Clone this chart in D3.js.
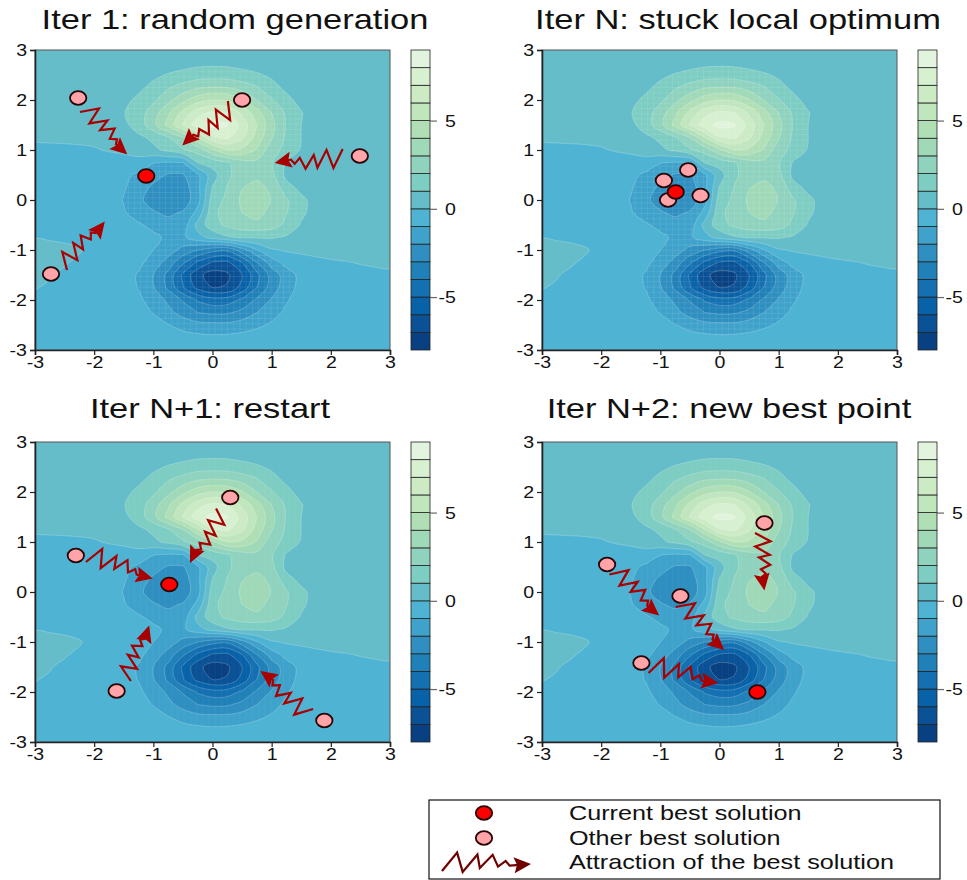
<!DOCTYPE html>
<html>
<head>
<meta charset="utf-8">
<script src="https://cdn.jsdelivr.net/npm/d3@7"></script>
<style>
  html, body { margin: 0; background: #fff; }
  svg { display: block; }
  text { font-family: "Liberation Sans", Arial, sans-serif; fill: #111; }
</style>
</head>
<body>
<div id="chart"></div>
<script>
// contour levels, one colour per band (low to high)
var levels = [-8,-7,-6,-5,-4,-3,-2,-1,0,1,2,3,4,5,6,7,8,9]
var bandColors = ["#084081","#0a5195","#0862a8","#1470b0","#2080b8","#2f8fc0","#3fa2cb","#4fb3d3",
  "#66bdca","#7dcdc3","#8fd3bf","#a0d9b8","#b0dfb6","#c0e6be","#ccebc5","#d7f0d0","#e2f4dd"]

var axisTicks = [-3,-2,-1,0,1,2,3]
var barTicks = [-5,0,5]

// surface, rows y=3 down to y=-3, columns x=-3 to x=3, step 0.25
var gridX = d3.range(-3, 3.01, 0.25)
var gridY = d3.range(3, -3.01, -0.25)
var field = [
  [.4,.4,.4,.4,.4,.4,.4,.4,.4,.4,.4,.4,.4,.4,.4,.4,.4,.4,.4,.4,.4,.4,.4,.4,.4],
  [.4,.4,.4,.4,.4,.4,.4,.4,.42,.48,.6,.72,.75,.74,.66,.52,.42,.4,.4,.4,.4,.4,.4,.4,.4],
  [.4,.4,.4,.4,.4,.4,.42,.5,.8,1.08,1.3,1.5,1.55,1.5,1.3,1.12,.85,.55,.42,.4,.4,.4,.4,.4,.4],
  [.4,.4,.4,.4,.4,.4,.45,.8,1.25,1.9,2.4,2.9,3.05,3,2.6,2.1,1.3,.8,.5,.4,.4,.4,.4,.4,.4],
  [.38,.38,.38,.38,.38,.42,.75,1.2,1.8,2.7,3.7,4.6,5.05,4.9,4.1,3,2.1,1.25,.7,.42,.38,.38,.38,.38,.38],
  [.35,.35,.35,.35,.38,.5,.95,1.5,2.5,3.8,5.3,6.6,7.2,7,5.8,4.4,3,1.8,1.05,.5,.38,.35,.35,.35,.35],
  [.3,.3,.3,.32,.36,.5,.75,1.45,2.7,4.3,6.1,7.6,8.3,8.1,6.6,5,3.3,1.9,1,.5,.36,.32,.3,.3,.3],
  [.1,.12,.12,.14,.15,.2,.4,.8,1.2,1.9,3,5,6.9,7.2,6.2,4.6,3.1,1.8,1,.5,.36,.32,.3,.3,.3],
  [-.2,-.15,-.12,-.1,-.05,.05,.15,.4,.8,1.2,1.85,2.4,3.8,5,4.8,3.9,2.4,1.7,.9,.5,.36,.32,.3,.3,.3],
  [-.4,-.35,-.35,-.3,-.3,-.3,-.3,-.35,-.95,-1.05,-1,1.05,1.4,1.9,2.6,2.75,2.1,.9,.55,.4,.35,.32,.3,.3,.3],
  [-.4,-.4,-.4,-.4,-.4,-.4,-.75,-1.2,-1.6,-2.1,-2.1,-1.2,.6,1.8,2.5,2.75,2.3,.7,.5,.4,.35,.32,.3,.3,.3],
  [-.4,-.4,-.4,-.4,-.45,-.5,-.9,-1.5,-2.2,-2.7,-2.5,-1.3,1.05,2.05,2.95,3.3,2.8,1.4,.7,.42,.35,.32,.3,.3,.3],
  [-.4,-.4,-.4,-.4,-.45,-.55,-1.05,-1.8,-2.4,-2.75,-2.6,-1.4,1.5,2.2,3.2,3.55,2.95,2.1,1.25,.6,.4,.35,.32,.3,.3],
  [-.35,-.35,-.35,-.38,-.42,-.55,-.9,-1.5,-1.9,-2.2,-1.9,-.7,1.7,2.5,3,3.4,2.6,2.05,1.2,.6,.4,.35,.32,.3,.3],
  [-.25,-.25,-.28,-.3,-.35,-.4,-.6,-.85,-1.3,-1.6,-1.6,.35,1.6,2.2,2.6,2.7,2.45,1.75,.9,.55,.4,.35,.32,.3,.3],
  [-.02,-.05,-.08,-.2,-.3,-.35,-.4,-.5,-.75,-1.2,-1.2,-.35,.3,.85,1.1,1.1,1.1,.85,.55,.4,.35,.32,.3,.3,.3],
  [.2,.15,.1,.05,-.2,-.28,-.35,-.55,-1,-1.5,-2.3,-3,-3.6,-3.8,-2.4,-1.1,-.1,.1,.1,.12,.15,.2,.2,.22,.25],
  [.2,.15,.05,-.1,-.25,-.3,-.4,-.75,-1.4,-2.4,-3.8,-5.2,-6.1,-6.2,-5,-3,-1.5,-.6,-.2,-.1,-.05,-.02,.02,.06,.1],
  [.1,.03,-.1,-.2,-.28,-.3,-.55,-1.1,-2,-3.3,-5.2,-6.7,-7.5,-7.2,-6,-4.3,-2.6,-1.5,-.7,-.3,-.2,-.15,-.1,-.1,-.1],
  [.02,-.05,-.15,-.2,-.28,-.3,-.5,-1.05,-1.9,-3.2,-4.9,-6.3,-7,-6.9,-5.6,-4,-2.5,-1.45,-.65,-.3,-.25,-.2,-.2,-.2,-.2],
  [-.1,-.15,-.2,-.22,-.28,-.3,-.4,-.8,-1.4,-2.2,-3.1,-4.1,-4.6,-4.5,-3.8,-2.8,-1.9,-1.1,-.55,-.3,-.25,-.25,-.25,-.25,-.25],
  [-.2,-.2,-.25,-.25,-.28,-.3,-.35,-.6,-1.05,-1.7,-2.4,-3,-3.2,-3.15,-2.7,-2,-1.35,-.8,-.45,-.3,-.25,-.25,-.25,-.25,-.25],
  [-.25,-.25,-.25,-.25,-.25,-.25,-.3,-.4,-.6,-.95,-1.35,-1.65,-1.7,-1.7,-1.5,-1.2,-.85,-.55,-.35,-.3,-.25,-.25,-.25,-.25,-.25],
  [-.3,-.3,-.3,-.3,-.3,-.3,-.3,-.3,-.35,-.45,-.6,-.7,-.8,-.75,-.65,-.5,-.4,-.35,-.3,-.3,-.3,-.3,-.3,-.3,-.3],
  [-.3,-.3,-.3,-.3,-.3,-.3,-.3,-.3,-.3,-.3,-.3,-.3,-.3,-.3,-.3,-.3,-.3,-.3,-.3,-.3,-.3,-.3,-.3,-.3,-.3]
]

var titles = ["Iter 1: random generation","Iter N: stuck local optimum","Iter N+1: restart","Iter N+2: new best point"]
var titleCenters = [235,738,210,729]

// [x, y] of the best point in each panel
var bestPoints = [[-1.12,.48],[-.74,.16],[-.73,.15],[.64,-2]]
var otherPoints = [
  [[-2.27,2.04],[.5,2],[2.49,.88],[-2.73,-1.48]],
  [[-.94,.39],[-.53,.6],[-.32,.09],[-.87,0]],
  [[-2.31,.73],[.3,1.89],[-1.62,-1.98],[1.89,-2.57]],
  [[.76,1.38],[-1.9,.55],[-.66,-.08],[-1.32,-1.42]]
]
// [x0, y0, x1, y1] start and tip of each attraction arrow
var arrows = [
  [[-2.24,1.76,-1.44,.91],[.26,1.98,-.51,1.09],[2.2,1.02,1.05,.74],[-2.46,-1.4,-1.82,-.43]],
  [],
  [[-2.14,.6,-1.01,.27],[.06,1.67,-.38,.58],[-1.38,-1.78,-1.07,-.67],[1.7,-2.34,.81,-1.58]],
  [[-1.86,.35,-1.02,-.47],[-.74,-.3,.08,-1.16],[-1.2,-1.62,-.02,-1.82],[.6,1.18,.76,.03]]
]
// zigzag shape: fraction along the arrow, fraction of its length to the side
var zigzag = [[0,0],[.185,-.24],[.23,.035],[.41,-.19],[.425,0],[.58,-.17],[.63,0],[.72,-.07],[.76,0],[.88,0]]

var legendLabels = ["Current best solution","Other best solution","Attraction of the best solution"]

var panelW = 355, panelH = 300
var panelLeft = [35,542,35,542]
var panelTop = [50,50,442,442]
var titleBase = [29,29,418,418]

document.addEventListener("DOMContentLoaded", function() {
  var svg = d3.select("#chart").append("svg").attr("width", 967).attr("height", 880)
  var defs = svg.append("defs")
  titles.forEach(function(t, i) { drawPanel(svg, defs, i) })
  drawLegend(svg)
})

// the source figure's type is wider than the font, so stretch it
function stretch(sel, factor) {
  sel.each(function() {
    d3.select(this).attr("textLength", this.getComputedTextLength()*factor)
      .attr("lengthAdjust","spacingAndGlyphs")
  })
}

function drawPanel(svg, defs, i) {
  var left = panelLeft[i], top = panelTop[i]
  var x = d3.scaleLinear().domain([-3,3]).range([left, left+panelW])
  var y = d3.scaleLinear().domain([-3,3]).range([top+panelH, top])

  var flat = d3.merge(field)
  var contours = d3.contours().size([gridX.length, gridY.length]).smooth(true)
  var ringLine = d3.line().curve(d3.curveCatmullRomClosed.alpha(.5))

  // contour rings from grid units to pixels, rounded off with a spline
  function smoothPath(multi) {
    return multi.coordinates.map(function(polygon) {
      return polygon.map(function(ring) {
        return ringLine(ring.slice(0,-1).map(function(p) {
          return [x(-3+(p[0]-.5)*.25), y(3-(p[1]-.5)*.25)]
        }))
      }).join("")
    }).join("")
  }

  svg.append("clipPath").attr("id","plot"+i).append("rect")
    .attr("x",left).attr("y",top).attr("width",panelW).attr("height",panelH)

  var g = svg.append("g").attr("clip-path","url(#plot"+i+")")
  g.append("rect").attr("x",left).attr("y",top).attr("width",panelW).attr("height",panelH)
    .attr("fill",bandColors[0])

  // filled bands, lowest first so that each paints over the one below
  levels.slice(1,-1).forEach(function(level, k) {
    g.append("path")
      .attr("d", smoothPath(contours.contour(flat, level)))
      .attr("fill-rule","evenodd")
      .attr("fill", bandColors[k+1])
  })

  // pale seams the renderer left in the steep parts of the surface
  var seamClip = defs.append("clipPath").attr("id","seam"+i)
  seamClip.append("path").attr("clip-rule","evenodd").attr("d", smoothPath(contours.contour(flat, 1)))
  seamClip.append("path").attr("clip-rule","evenodd").attr("d", smoothPath(contours.contour(flat.map(function(v) { return -v }), 1)))
  var seams = g.append("g").attr("clip-path","url(#seam"+i+")")
    .attr("stroke","#fff").attr("stroke-width",.6).attr("stroke-opacity", i < 2 ? .15 : .08)
  d3.range(-3, 3, .105).forEach(function(v) {
    seams.append("line").attr("x1",x(v)).attr("x2",x(v)).attr("y1",top).attr("y2",top+panelH)
    if (i < 2) seams.append("line").attr("y1",y(v)).attr("y2",y(v)).attr("x1",left).attr("x2",left+panelW)
  })

  // thin pale contour lines
  levels.slice(1,-1).forEach(function(level) {
    g.append("path")
      .attr("d", smoothPath(contours.contour(flat, level)))
      .attr("fill","none").attr("stroke","#fff").attr("stroke-width",.7).attr("stroke-opacity",.3)
  })

  arrows[i].forEach(function(a) {
    drawArrow(svg, x(a[0]), y(a[1]), x(a[2]), y(a[3]), "#a80000", 1)
  })

  otherPoints[i].forEach(function(p) { drawPoint(svg, x(p[0]), y(p[1]), "#ffa4a8") })
  drawPoint(svg, x(bestPoints[i][0]), y(bestPoints[i][1]), "#ff0000")

  // frame and axes
  svg.append("rect").attr("x",left).attr("y",top).attr("width",panelW).attr("height",panelH)
    .attr("fill","none").attr("stroke","#555").attr("stroke-width",1)

  var xAxis = svg.append("g").attr("transform","translate(0,"+(top+panelH)+")")
    .call(d3.axisBottom(x).tickValues(axisTicks).tickSize(5).tickPadding(1).tickFormat(String))
  var yAxis = svg.append("g").attr("transform","translate("+left+",0)")
    .call(d3.axisLeft(y).tickValues(axisTicks).tickSize(5).tickPadding(3).tickFormat(String))
  ;[xAxis, yAxis].forEach(function(a) {
    a.selectAll("text").style("font-size","17px").style("font-family",'"Liberation Sans"').attr("fill","#111")
      .call(stretch, 1.15)
    a.selectAll("line").attr("stroke","#222").attr("stroke-width",1.2)
    a.select(".domain").attr("stroke","#222").attr("stroke-width",1.6)
  })

  svg.append("text").attr("x",titleCenters[i]).attr("y",titleBase[i])
    .attr("text-anchor","middle").style("font-size","28px").text(titles[i])
    .call(stretch, 1.23)

  drawColorbar(svg, left+panelW+21, top)
}

function drawColorbar(svg, left, top) {
  var barY = d3.scaleLinear().domain([-8,9]).range([top+panelH, top])
  var bar = svg.append("g")
  bar.selectAll("rect").data(bandColors).enter().append("rect")
    .attr("x",left).attr("width",19)
    .attr("y",function(d,k) { return barY(levels[k+1]) })
    .attr("height",function(d,k) { return barY(levels[k])-barY(levels[k+1]) })
    .attr("fill",function(d) { return d })
    .attr("stroke","#222").attr("stroke-width",.8)
  var axis = svg.append("g").attr("transform","translate("+(left+19)+",0)")
    .call(d3.axisRight(barY).tickValues(barTicks).tickSize(7).tickFormat(String))
  axis.select(".domain").remove()
  axis.selectAll("line").attr("stroke","#666").attr("stroke-width",1.2)
  axis.selectAll("text").attr("x",26).attr("text-anchor","end")
    .style("font-size","17px").style("font-family",'"Liberation Sans"').attr("fill","#111")
    .call(stretch, 1.15)
}

function drawPoint(svg, cx, cy, color) {
  svg.append("ellipse").attr("cx",cx).attr("cy",cy).attr("rx",8.2).attr("ry",6.8)
    .attr("fill",color).attr("stroke","#2a0505").attr("stroke-width",1.8)
}

function drawArrow(svg, x0, y0, x1, y1, color, amp) {
  var dx = x1-x0, dy = y1-y0
  var place = function(t, s) { return [x0+dx*t-dy*s*amp, y0+dy*t+dx*s*amp] }
  svg.append("path").attr("d", d3.line()(zigzag.map(function(p) { return place(p[0],p[1]) })))
    .attr("fill","none").attr("stroke",color).attr("stroke-width",2.2).attr("stroke-linejoin","miter")
  var len = Math.sqrt(dx*dx+dy*dy)
  var head = 17/len, wing = 8/len/amp, notch = 14/len
  svg.append("path").attr("d", d3.line()([
    place(1,0), place(1-head,-wing), place(1-notch,0), place(1-head,wing)
  ])+"Z").attr("fill",color)
}

function drawLegend(svg) {
  svg.append("rect").attr("x",429).attr("y",800).attr("width",511).attr("height",79)
    .attr("fill","#fff").attr("stroke","#111").attr("stroke-width",1.2)
  drawPoint(svg, 484, 813, "#ff0000")
  drawPoint(svg, 484, 838, "#ffa4a8")
  drawArrow(svg, 442, 871, 531, 864, "#700000", .8)
  var baselines = [820,845,869]
  legendLabels.forEach(function(label, k) {
    svg.append("text").attr("x",569).attr("y",baselines[k]).style("font-size","21px").text(label)
      .call(stretch, 1.2)
  })
}
</script>
</body>
</html>
